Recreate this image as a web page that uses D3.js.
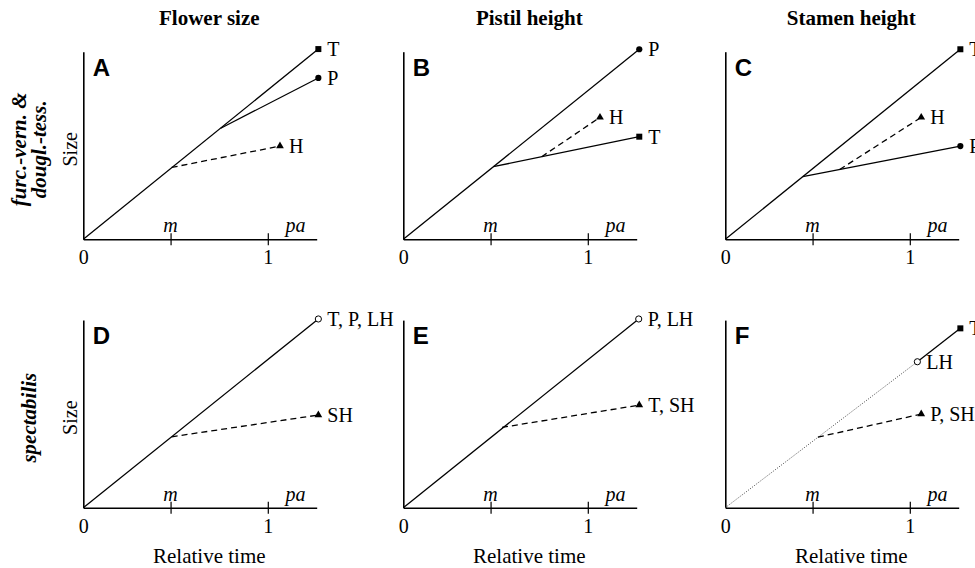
<!DOCTYPE html>
<html>
<head>
<meta charset="utf-8">
<script src="https://cdn.jsdelivr.net/npm/d3@7"></script>
<style>
  html, body { margin: 0; padding: 0; background: #fff; }
  svg { display: block; }
</style>
</head>
<body>
<svg id="chart" width="975" height="568"></svg>
<script>
// column headers and row labels
const columnTitles = ["Flower size", "Pistil height", "Stamen height"]
const rowTitles = [["furc.-vern. &", "dougl.-tess."], ["spectabilis"]]
const panelLetters = ["A", "B", "C", "D", "E", "F"]

// x axis: relative time (0 = start, m = meiosis, 1 = anthesis, pa = post-anthesis)
const xTickValues = [0, 0.473, 1]
const xTickLabels = ["0", "", "1"]
const xMarks = [{ label: "m", value: 0.473 }, { label: "pa", value: 1.15 }]
const xMax = 1.265

// trajectories per panel: [x, y] points, line style, end marker, end label
const panelA = [
  { pts: [[0, 0], [1.274, 1.014]], dash: "solid", marker: "square", label: "T" },
  { pts: [[0.745, 0.592], [1.274, 0.860]], dash: "solid", marker: "circle", label: "P" },
  { pts: [[0.479, 0.383], [1.066, 0.497]], dash: "dashed", marker: "triangle", label: "H" }
]
const panelB = [
  { pts: [[0, 0], [1.279, 1.013]], dash: "solid", marker: "circle", label: "P" },
  { pts: [[0.488, 0.387], [1.279, 0.547]], dash: "solid", marker: "square", label: "T" },
  { pts: [[0.750, 0.440], [1.066, 0.650]], dash: "dashed", marker: "triangle", label: "H" }
]
const panelC = [
  { pts: [[0, 0], [1.274, 1.013]], dash: "solid", marker: "square", label: "T" },
  { pts: [[0.420, 0.334], [1.274, 0.497]], dash: "solid", marker: "circle", label: "P" },
  { pts: [[0.620, 0.372], [1.062, 0.650]], dash: "dashed", marker: "triangle", label: "H" }
]
const panelD = [
  { pts: [[0, 0], [1.274, 1.006]], dash: "solid", marker: "open", label: "T, P, LH" },
  { pts: [[0.479, 0.378], [1.274, 0.494]], dash: "dashed", marker: "triangle", label: "SH" }
]
const panelE = [
  { pts: [[0, 0], [1.276, 1.006]], dash: "solid", marker: "open", label: "P, LH" },
  { pts: [[0.535, 0.428], [1.279, 0.547]], dash: "dashed", marker: "triangle", label: "T, SH" }
]
const panelF = [
  { pts: [[0, 0], [1.041, 0.778]], dash: "dotted", marker: "open", label: "LH" },
  { pts: [[1.041, 0.778], [1.274, 0.956]], dash: "solid", marker: "square", label: "T" },
  { pts: [[0.502, 0.376], [1.062, 0.499]], dash: "dashed", marker: "triangle", label: "P, SH" }
]
const panels = [panelA, panelB, panelC, panelD, panelE, panelF]

// layout
const colX = [83.3, 403.3, 725.3]
const rowY = [239.3, 507.7]
const xUnit = 184.5
const yUnit = 187.6
const serif = "'Liberation Serif', 'Times New Roman', serif"
const sans = "'Liberation Sans', Arial, sans-serif"

const svg = d3.select("#chart")
  .attr("font-family", serif)

const dashes = { solid: null, dashed: "6,4", dotted: "1,1.6" }
const symbols = {
  square: { type: d3.symbolSquare, size: 36, fill: "#000" },
  circle: { type: d3.symbolCircle, size: 30, fill: "#000" },
  triangle: { type: d3.symbolTriangle, size: 26, fill: "#000" },
  open: { type: d3.symbolCircle, size: 30, fill: "#fff" }
}

// column titles
columnTitles.forEach((t, i) => {
  svg.append("text")
    .attr("x", colX[i] + 126)
    .attr("y", 25)
    .attr("text-anchor", "middle")
    .attr("font-weight", "bold")
    .attr("font-size", 21)
    .text(t)
})

// row titles (rotated)
rowTitles.forEach((lines, r) => {
  const cy = rowY[r] - 90
  const n = lines.length
  lines.forEach((t, j) => {
    const bx = n === 1 ? 36 : 26 + j * 20
    svg.append("text")
      .attr("transform", `translate(${bx},${cy}) rotate(-90)`)
      .attr("text-anchor", "middle")
      .attr("font-weight", "bold")
      .attr("font-style", "italic")
      .attr("font-size", 21)
      .text(t)
  })
  svg.append("text")
    .attr("transform", `translate(77,${cy}) rotate(-90)`)
    .attr("text-anchor", "middle")
    .attr("font-size", 20)
    .text("Size")
})

panels.forEach((series, i) => {
  const col = i % 3, row = Math.floor(i / 3)
  const x = d3.scaleLinear().domain([0, xMax]).range([0, xMax * xUnit])
  const y = d3.scaleLinear().domain([0, 1]).range([0, -yUnit])

  const g = svg.append("g")
    .attr("transform", `translate(${colX[col]},${rowY[row]})`)

  // x axis with ticks crossing the line
  const xAxis = g.append("g")
    .call(d3.axisBottom(x)
      .tickValues(xTickValues)
      .tickFormat((d, k) => xTickLabels[k])
      .tickSizeOuter(0)
      .tickSizeInner(6)
      .tickPadding(5))
  xAxis.attr("font-family", serif).attr("font-size", 20)
  xAxis.select(".domain").attr("stroke-width", 1.6)
  xAxis.selectAll(".tick line")
    .attr("y1", -6)
    .attr("y2", 6)
    .attr("stroke-width", 1.2)
    .attr("display", d => d === 0 ? "none" : null)
  xAxis.selectAll(".tick text").attr("fill", "#000")

  // y axis: just the line
  const yAxis = g.append("g")
    .call(d3.axisLeft(y).tickValues([]).tickSizeOuter(0))
  yAxis.select(".domain").attr("stroke-width", 1.6)

  // m / pa marks above the axis
  g.selectAll(".xmark")
    .data(xMarks)
    .join("text")
    .attr("class", "xmark")
    .attr("x", d => x(d.value))
    .attr("y", -7)
    .attr("text-anchor", "middle")
    .attr("font-style", "italic")
    .attr("font-size", 20)
    .text(d => d.label)

  // panel letter
  g.append("text")
    .attr("x", 9.5)
    .attr("y", y(0.87))
    .attr("font-family", sans)
    .attr("font-weight", "bold")
    .attr("font-size", 24)
    .text(panelLetters[i])

  const line = d3.line().x(d => x(d[0])).y(d => y(d[1]))

  g.selectAll(".traj")
    .data(series)
    .join("path")
    .attr("class", "traj")
    .attr("d", d => line(d.pts))
    .attr("fill", "none")
    .attr("stroke", d => d.dash === "dotted" ? "#444" : "#000")
    .attr("stroke-width", d => d.dash === "dotted" ? 1 : 1.3)
    .attr("stroke-dasharray", d => dashes[d.dash])

  g.selectAll(".end")
    .data(series)
    .join("path")
    .attr("class", "end")
    .attr("transform", d => {
      const p = d.pts[d.pts.length - 1]
      return `translate(${x(p[0])},${y(p[1])})`
    })
    .attr("d", d => d3.symbol(symbols[d.marker].type, symbols[d.marker].size)())
    .attr("fill", d => symbols[d.marker].fill)
    .attr("stroke", "#000")
    .attr("stroke-width", d => d.marker === "open" ? 1 : 0)

  // end labels (the right column runs off the page edge, as in the original)
  g.selectAll(".lbl")
    .data(series)
    .join("text")
    .attr("class", "lbl")
    .attr("x", d => x(d.pts[d.pts.length - 1][0]) + 9)
    .attr("y", d => y(d.pts[d.pts.length - 1][1]) + 7)
    .attr("font-size", 20)
    .text(d => d.label)

  if (row === 1) {
    g.append("text")
      .attr("x", 126)
      .attr("y", 55)
      .attr("text-anchor", "middle")
      .attr("font-size", 21)
      .text("Relative time")
  }
})
</script>
</body>
</html>
